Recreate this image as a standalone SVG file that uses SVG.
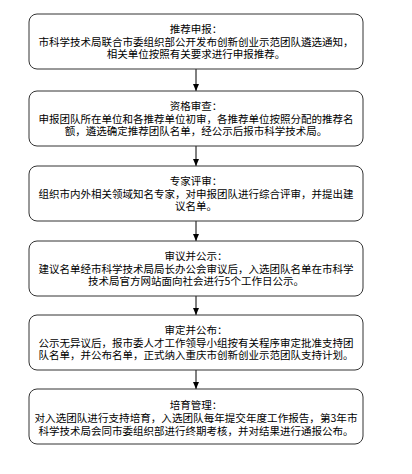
<svg xmlns="http://www.w3.org/2000/svg" width="412" height="474" viewBox="0 0 412 474">
<defs>
<style>
.box{fill:#fff;stroke:#333;stroke-width:1}
.t{font-family:"Noto Sans CJK SC","Liberation Sans",sans-serif;font-size:10.5px;fill:#000;text-anchor:middle}
.c{stroke:#000;stroke-width:1;fill:none}
</style>
<marker id="ah" viewBox="0 0 7 6" refX="7" refY="3" markerWidth="7" markerHeight="6" markerUnits="userSpaceOnUse" orient="auto">
<path d="M0,0 L7,3 L0,6 Z" fill="#000"/>
</marker>
</defs>
<rect width="412" height="474" fill="#fff"/>
<g id="connectors">
<line class="c" x1="196" y1="69" x2="196" y2="91" marker-end="url(#ah)"/>
<line class="c" x1="196" y1="146" x2="196" y2="166" marker-end="url(#ah)"/>
<line class="c" x1="196" y1="221" x2="196" y2="241" marker-end="url(#ah)"/>
<line class="c" x1="196" y1="296" x2="196" y2="315" marker-end="url(#ah)"/>
<line class="c" x1="196" y1="370" x2="196" y2="389" marker-end="url(#ah)"/>
</g>
<g id="n1">
<rect class="box" x="29" y="14" width="334" height="55" rx="8"/>
<text class="t" x="196" y="33">推荐申报：</text>
<text class="t" x="196" y="45.5">市科学技术局联合市委组织部公开发布创新创业示范团队遴选通知，</text>
<text class="t" x="196" y="58">相关单位按照有关要求进行申报推荐。</text>
</g>
<g id="n2">
<rect class="box" x="29" y="91" width="334" height="55" rx="8"/>
<text class="t" x="196" y="110">资格审查：</text>
<text class="t" x="196" y="122.5">申报团队所在单位和各推荐单位初审，各推荐单位按照分配的推荐名</text>
<text class="t" x="196" y="135">额，遴选确定推荐团队名单，经公示后报市科学技术局。</text>
</g>
<g id="n3">
<rect class="box" x="29" y="166" width="334" height="55" rx="8"/>
<text class="t" x="196" y="185">专家评审：</text>
<text class="t" x="196" y="197.5">组织市内外相关领域知名专家，对申报团队进行综合评审，并提出建</text>
<text class="t" x="196" y="210">议名单。</text>
</g>
<g id="n4">
<rect class="box" x="29" y="241" width="334" height="55" rx="8"/>
<text class="t" x="196" y="260">审议并公示：</text>
<text class="t" x="196" y="272.5">建议名单经市科学技术局局长办公会审议后，入选团队名单在市科学</text>
<text class="t" x="196" y="285">技术局官方网站面向社会进行5个工作日公示。</text>
</g>
<g id="n5">
<rect class="box" x="29" y="315" width="334" height="55" rx="8"/>
<text class="t" x="196" y="334">审定并公布：</text>
<text class="t" x="196" y="346.5">公示无异议后，报市委人才工作领导小组按有关程序审定批准支持团</text>
<text class="t" x="196" y="359">队名单，并公布名单，正式纳入重庆市创新创业示范团队支持计划。</text>
</g>
<g id="n6">
<rect class="box" x="29" y="389" width="334" height="55" rx="8"/>
<text class="t" x="196" y="409">培育管理：</text>
<text class="t" x="196" y="422" textLength="323" lengthAdjust="spacingAndGlyphs">对入选团队进行支持培育，入选团队每年提交年度工作报告，第3年市</text>
<text class="t" x="196" y="435">科学技术局会同市委组织部进行终期考核，并对结果进行通报公布。</text>
</g>
</svg>
